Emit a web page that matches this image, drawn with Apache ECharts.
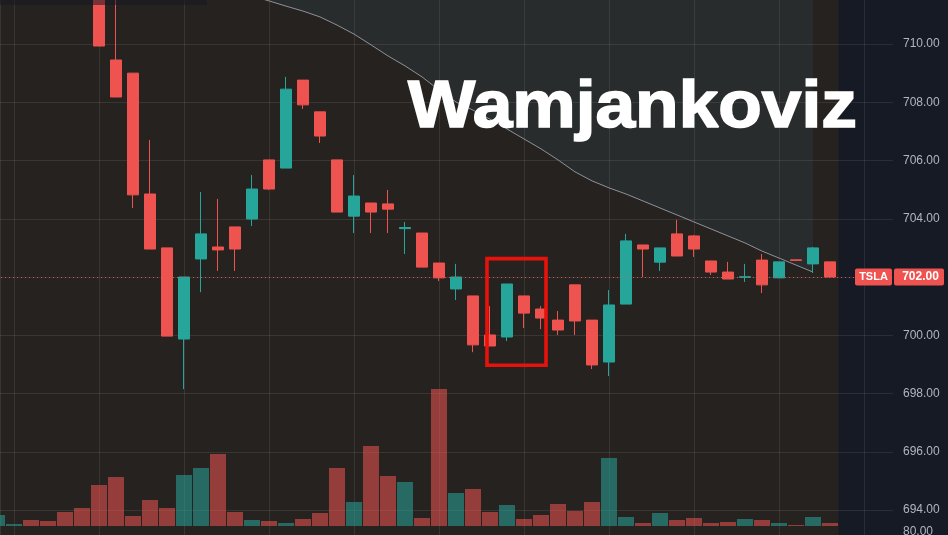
<!DOCTYPE html>
<html>
<head>
<meta charset="utf-8">
<script src="https://cdn.jsdelivr.net/npm/echarts@6/dist/echarts.min.js"></script>
<style>
html,body{margin:0;padding:0;background:#161a25;overflow:hidden;}
#chart{width:948px;height:535px;}
</style>
</head>
<body>
<div id="chart"></div>
<script>
// ---- data ----
const categories = ['10:00','10:01','10:02','10:03','10:04','10:05','10:06','10:07','10:08','10:09',
  '10:10','10:11','10:12','10:13','10:14','10:15','10:16','10:17','10:18','10:19',
  '10:20','10:21','10:22','10:23','10:24','10:25','10:26','10:27','10:28','10:29',
  '10:30','10:31','10:32','10:33','10:34','10:35','10:36','10:37','10:38','10:39',
  '10:40','10:41','10:42','10:43','10:44','10:45','10:46','10:47','10:48','10:49',
  '10:50','10:51','10:52'];

const opens  = [713.0,713.6,713.8,713.5,713.2,712.8,712.2,709.45,709.00,704.85,
  703.00,699.87,702.62,703.03,703.72,703.99,706.02,705.74,708.76,707.67,
  706.02,704.09,704.54,704.51,703.66,703.51,702.48,701.59,701.35,700.01,
  699.94,701.35,700.90,700.52,701.73,700.52,699.08,701.07,703.10,702.51,
  703.48,703.41,702.55,702.17,701.99,702.58,701.97,702.59,702.45,702.52];
const closes = [713.6,713.8,713.5,713.2,712.8,712.2,709.93,708.18,704.82,702.96,
  699.97,702.00,703.48,702.93,702.96,705.02,705.02,708.45,707.91,706.84,
  704.23,704.78,704.23,704.33,703.70,702.34,701.97,702.00,699.67,699.63,
  701.76,700.76,700.59,700.18,700.49,698.98,701.04,703.24,702.96,703.00,
  702.72,702.96,702.17,701.93,702.01,701.73,702.52,702.57,703.00,702.00];
const lows   = [712.8,713.4,713.3,713.0,712.6,712.0,709.93,708.18,704.37,702.96,
  699.97,698.15,701.48,702.21,702.21,703.75,704.99,705.74,707.77,706.60,
  704.23,703.51,703.51,703.51,702.79,702.34,701.86,701.21,699.42,699.63,
  699.80,700.25,700.21,700.01,700.01,698.84,698.60,701.07,702.00,702.21,
  702.72,702.69,702.07,701.93,701.83,701.45,701.97,702.57,702.14,702.00];
const highs  = [713.9,714.0,714.0,713.7,713.4,713.0,712.4,711.8,709.00,706.70,
  703.00,702.00,704.92,704.68,703.72,705.50,706.02,708.87,708.76,707.67,
  706.02,705.50,704.54,704.99,703.89,703.51,702.48,702.45,701.35,701.00,
  701.76,701.35,701.00,700.83,701.73,700.52,701.55,703.48,703.10,703.00,
  703.96,703.44,702.55,702.52,702.45,702.79,702.52,702.59,703.03,702.52];
const volumes = [11,2,6,5,14,18,41,49,10,26,18,51,58,72,14,6,5,3,7,13,
  58,24,80,50,44,8,137,33,37,14,21,7,11,22,15,24,68,9,3,13,
  6,8,3,4,7,6,3,1,9,3];
// moving average line (starts at bar 15)
const maStart = 15;
const maValues = [711.65,711.48,711.30,711.13,710.93,710.65,710.34,709.97,709.59,709.25,
  708.87,708.42,708.01,707.73,707.42,707.08,706.74,706.40,706.02,705.61,
  705.30,705.06,704.85,704.61,704.37,704.13,703.89,703.65,703.41,703.17,
  702.89,702.65,702.41,702.17];
const priceAxisRange = [692, 712];
const priceTickStep = [2];
const volumeAxisMax = [146];
const tickerName = 'TSLA';
const titleText = 'Wamjankoviz';
const volumeCornerLabel = '80.00';
// highlighted box: [first bar, last bar, low price, high price]
const highlightBox = [29, 32, 698.9, 702.7];

// ---- build ----
const UP = '#26a69a', DOWN = '#ef5350';
const GRIDC = 'rgba(255,255,255,0.085)';
const ohlc = categories.map((c, i) => i < opens.length ? [opens[i], closes[i], lows[i], highs[i]] : '-');
const vol = categories.map((c, i) => i < volumes.length ? {
  value: volumes[i],
  itemStyle: {color: closes[i] >= opens[i] ? 'rgba(38,166,154,0.55)' : 'rgba(239,83,80,0.55)'}
} : '-');
const ma = categories.map((c, i) => (i >= maStart && i < maStart + maValues.length) ? maValues[i - maStart] : null);
const lastPrice = closes[closes.length - 1];

const chart = echarts.init(document.getElementById('chart'), null, {renderer: 'canvas'});
const option = {
  animation: false,
  backgroundColor: '#161a25',
  grid: [
    {left: -3, right: 67, top: -14.25, height: 582.5, outerBoundsMode: 'none', containLabel: false},
    {left: -3, right: 67, top: 380, height: 146, outerBoundsMode: 'none', containLabel: false},
    {left: 0, right: 55, top: -14.25, height: 582.5, outerBoundsMode: 'none', containLabel: false}
  ],
  xAxis: [
    {type: 'category', gridIndex: 0, data: categories, boundaryGap: false,
     axisLine: {show: false}, axisTick: {show: false}, axisLabel: {show: false},
     splitLine: {show: true, interval: (i) => i % 5 === 1, lineStyle: {color: GRIDC, width: 1}}},
    {type: 'category', gridIndex: 1, data: categories, boundaryGap: false, show: false},
    {type: 'value', gridIndex: 2, min: 0, max: 1, show: false}
  ],
  yAxis: [
    {type: 'value', gridIndex: 0, min: priceAxisRange[0], max: priceAxisRange[1], show: false},
    {type: 'value', gridIndex: 1, min: 0, max: volumeAxisMax[0], show: false},
    {type: 'value', gridIndex: 2, min: priceAxisRange[0], max: priceAxisRange[1], interval: priceTickStep[0],
     position: 'right',
     axisLine: {show: true, lineStyle: {color: GRIDC}},
     axisTick: {show: false},
     axisLabel: {color: '#b2b5be', fontSize: 12, fontFamily: 'Liberation Sans', margin: 10,
                 formatter: (v) => v.toFixed(2)},
     splitLine: {show: true, lineStyle: {color: GRIDC, width: 1}}}
  ],
  series: [
    {type: 'line', name: 'MA', xAxisIndex: 0, yAxisIndex: 0, data: ma, z: 1,
     symbol: 'none', smooth: false,
     lineStyle: {color: '#8e9198', width: 1},
     areaStyle: {origin: 'end', color: 'rgba(70,140,185,0.14)'}},
    {type: 'candlestick', name: tickerName, xAxisIndex: 0, yAxisIndex: 0, data: ohlc, barWidth: 12, z: 3,
     itemStyle: {color: UP, color0: DOWN, borderColor: UP, borderColor0: DOWN, borderWidth: 1},
     markLine: {silent: true, symbol: 'none', label: {show: false},
                lineStyle: {color: DOWN, type: [1, 3], width: 1, opacity: 0.9},
                data: [{yAxis: lastPrice}]}},
    {type: 'bar', name: 'Volume', xAxisIndex: 1, yAxisIndex: 1, data: vol, barWidth: 16, z: 2}
  ]
};
chart.setOption(option);

const px = (i, v) => chart.convertToPixel({gridIndex: 0}, [i, v]);
const x49 = px(opens.length - 1, lastPrice)[0];
const x50 = px(opens.length, lastPrice)[0];
const sessionEdge = (x49 + x50) / 2;
const yLast = px(0, lastPrice)[1];
const hbL = px(highlightBox[0], highlightBox[3]);
const hbR = px(highlightBox[1], highlightBox[2]);
const hbLeft = hbL[0] - 5, hbRight = hbR[0] + 7, hbTop = hbL[1], hbBottom = hbR[1];

chart.setOption({
  graphic: [
    {type: 'rect', z: -10, silent: true, shape: {x: 0, y: 0, width: sessionEdge, height: 535},
     style: {fill: '#26221f'}},
    {type: 'rect', z: 50, silent: true, shape: {x: 0, y: 0, width: 207, height: 5},
     style: {fill: 'rgba(22,24,34,0.55)'}},
    {type: 'rect', z: 50, silent: true,
     shape: {x: hbLeft + 2, y: hbTop + 2, width: hbRight - hbLeft - 4, height: hbBottom - hbTop - 4},
     style: {fill: 'none', stroke: '#e8120c', lineWidth: 3.6}},
    {type: 'text', z: 60, silent: true, x: 408, y: 109, scaleX: 1.08, scaleY: 1,
     style: {text: titleText, fill: '#ffffff', stroke: '#ffffff', lineWidth: 1.6,
             font: 'bold 66px "Liberation Sans", Arial, sans-serif',
             verticalAlign: 'middle', align: 'left'}},
    {type: 'rect', z: 60, silent: true, shape: {x: 855, y: yLast - 8.5, width: 37, height: 17, r: 2},
     style: {fill: DOWN}},
    {type: 'text', z: 61, silent: true, x: 873.5, y: yLast,
     style: {text: tickerName, fill: '#ffffff', font: 'bold 11px "Liberation Sans", Arial, sans-serif',
             align: 'center', verticalAlign: 'middle'}},
    {type: 'rect', z: 60, silent: true, shape: {x: 894, y: yLast - 8.5, width: 50, height: 17, r: 2},
     style: {fill: DOWN}},
    {type: 'text', z: 61, silent: true, x: 920.5, y: yLast,
     style: {text: lastPrice.toFixed(2), fill: '#ffffff', font: 'bold 12px "Liberation Sans", Arial, sans-serif',
             align: 'center', verticalAlign: 'middle'}},
    {type: 'text', z: 61, silent: true, x: 903, y: 532,
     style: {text: volumeCornerLabel, fill: '#b2b5be', font: '12px "Liberation Sans", Arial, sans-serif',
             align: 'left', verticalAlign: 'middle'}}
  ]
});
</script>
</body>
</html>
